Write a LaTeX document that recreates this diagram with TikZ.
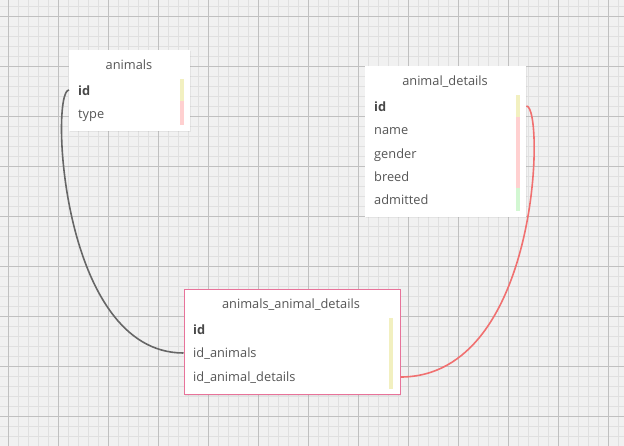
\documentclass[tikz,border=0pt]{standalone}
\usepackage{fontspec}
\setmainfont{Open Sans}
\usepackage{xcolor}
\usepackage{tikz}
\usetikzlibrary{shadows}

\definecolor{canvas}{HTML}{F1F1F1}
\definecolor{minorline}{HTML}{E0E0E0}
\definecolor{majorline}{HTML}{C0C0C0}
\definecolor{txt}{HTML}{555555}
\definecolor{keybar}{HTML}{F2F0C0}
\definecolor{textbar}{HTML}{FFD0D0}
\definecolor{datebar}{HTML}{D2F7D2}
\definecolor{linkgray}{HTML}{666666}
\definecolor{linkred}{HTML}{F07070}
\definecolor{selpink}{HTML}{E8739A}

\tikzset{
  tablebox/.style={draw=none,fill=white,anchor=north west,inner sep=0pt,
    drop shadow={shadow xshift=1pt,shadow yshift=-1pt,opacity=0.12}},
  tabletitle/.style={anchor=base,text=txt,font=\fontsize{12.8}{15}\selectfont,inner sep=0pt},
  field/.style={anchor=base west,text=txt,font=\fontsize{12.8}{15}\selectfont,inner sep=0pt},
  keyfield/.style={field,font=\fontsize{12.8}{15}\selectfont\bfseries,text=txt!85!black},
}

\begin{document}
\begin{tikzpicture}[x=1pt,y=-1pt]
\useasboundingbox (0,0) rectangle (624,446);
% Grid paper
\fill[canvas] (0,0) rectangle (624,446);
\foreach \x in {8,18,...,618} \draw[minorline,line width=0.9pt] (\x,0) -- (\x,446);
\foreach \y in {6,16,...,446} \draw[minorline,line width=0.9pt] (0,\y) -- (624,\y);
\foreach \x in {8,58,...,608} \draw[majorline,line width=0.9pt] (\x,0) -- (\x,446);
\foreach \y in {16,66,...,416} \draw[majorline,line width=0.9pt] (0,\y) -- (624,\y);

% Table animals
\node[tablebox,minimum width=121pt,minimum height=81pt] (animals) at (69,50) {};
\node[tabletitle] (animals-title) at (129,70) {animals};
\node[keyfield] (animals-id) at (78,95.5) {id};
\node[field] (animals-type) at (78,118.8) {type};
\fill[keybar] (180,79) rectangle (184,101.5);
\fill[textbar] (180,101.5) rectangle (184,125);

% Table animal_details
\node[tablebox,minimum width=161pt,minimum height=151pt] (details) at (365,66) {};
\node[tabletitle] (details-title) at (445,86) {animal\_details};
\node[keyfield] (details-id) at (374,111.5) {id};
\node[field] (details-name) at (374,134.8) {name};
\node[field] (details-gender) at (374,158.1) {gender};
\node[field] (details-breed) at (374,181.4) {breed};
\node[field] (details-admitted) at (374,204.7) {admitted};
\fill[keybar] (516,95) rectangle (520,117.5);
\fill[textbar] (516,117.5) rectangle (520,187.7);
\fill[datebar] (516,187.7) rectangle (520,210.7);

% Join table (selected)
\node[tablebox,draw=selpink,line width=1pt,minimum width=216pt,minimum height=105pt] (join) at (183.5,289) {};
\node[tabletitle] (join-title) at (291,309) {animals\_animal\_details};
\node[keyfield] (join-id) at (193,334.5) {id};
\node[field] (join-animals) at (193,357.8) {id\_animals};
\node[field] (join-details) at (193,381.1) {id\_animal\_details};
\fill[keybar] (389,318.5) rectangle (393,388.5);

% Relations
\coordinate (animals-out) at (animals.west |- 0,90);
\coordinate (join-in) at (join.west |- 0,353);
\coordinate (details-out) at (details.east |- 0,106);
\coordinate (join-out) at (join.east |- 0,377);
\draw[linkgray,line width=1.6pt] (animals-out) .. controls (50,90) and (60,353) .. (join-in);
\draw[linkred,line width=1.6pt] (details-out) .. controls (545,106) and (540,377) .. (join-out);
\end{tikzpicture}
\end{document}
